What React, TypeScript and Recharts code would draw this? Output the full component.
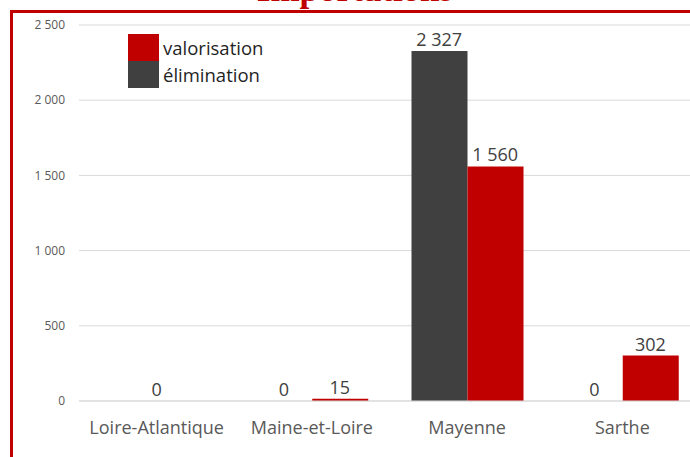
import React from 'react';
import { BarChart, Bar, XAxis, YAxis, CartesianGrid, ReferenceDot } from 'recharts';

const categories = ['Loire-Atlantique', 'Maine-et-Loire', 'Mayenne', 'Sarthe'];
const valorisation = [0, 15, 1560, 302];
const elimination = [0, 0, 2327, 0];
const yTicks = [0, 500, 1000, 1500, 2000, 2500];
const seriesNames = ['valorisation', 'élimination'];
const seriesColors = ['#C00000', '#404040'];
const title = 'Importations';

const data = categories.map((c, i) => ({
  name: c,
  valorisation: valorisation[i],
  elimination: elimination[i],
}));

const fmt = (v: number) => String(v).replace(/\B(?=(\d{3})+(?!\d))/g, ' ');

const FONT = '"Open Sans", sans-serif';
const BAR = 56;

// label entries: [category index, series key, value]
type Lbl = { cat: string; value: number; side: number };
const labels: Lbl[] = [];
categories.forEach((c, i) => {
  if (i === 0) {
    // single centred label for a category whose both series are empty
    labels.push({ cat: c, value: valorisation[i], side: 0 });
  } else {
    labels.push({ cat: c, value: elimination[i], side: -1 });
    labels.push({ cat: c, value: valorisation[i], side: 1 });
  }
});

export default function App() {
  return (
    <div style={{ position: 'fixed', left: 0, top: 0, width: 690, height: 457, overflow: 'hidden', background: '#fff' }}>
      <BarChart
        width={720}
        height={457}
        data={data}
        margin={{ top: 25, right: 20, left: 0, bottom: 26 }}
        barGap={0}
        barSize={BAR}
        style={{ position: 'absolute', left: 0, top: 0 }}
      >
        <CartesianGrid vertical={false} stroke="#d9d9d9" />
        <YAxis
          width={79}
          domain={[0, 2500]}
          ticks={yTicks}
          tickLine={false}
          axisLine={false}
          tickSize={6}
          tickMargin={8}
          tickFormatter={fmt}
          tick={{ fontSize: 12, fill: '#595959', fontFamily: FONT }}
        />
        <XAxis
          dataKey="name"
          height={30}
          tickLine={false}
          axisLine={{ stroke: '#d9d9d9' }}
          tickMargin={14}
          tick={{ fontSize: 18, fill: '#595959', fontFamily: FONT }}
        />
        <Bar dataKey="elimination" fill={seriesColors[1]} isAnimationActive={false} />
        <Bar dataKey="valorisation" fill={seriesColors[0]} isAnimationActive={false} />
        {labels.map((l, k) => (
          <ReferenceDot
            key={k}
            x={l.cat}
            y={l.value}
            r={0}
            ifOverflow="visible"
            shape={(p: any) => (
              <text
                x={p.cx + (l.side * BAR) / 2}
                y={p.cy - 5}
                textAnchor="middle"
                fontSize={18}
                fill="#404040"
                fontFamily={FONT}
              >
                {fmt(l.value)}
              </text>
            )}
          />
        ))}
      </BarChart>
      <div
        style={{
          position: 'absolute', left: 10, top: 10, width: 800, height: 600,
          border: '3px solid #C00000', pointerEvents: 'none',
        }}
      />
      <div
        style={{
          position: 'absolute', left: 0, width: 710, top: -28, textAlign: 'center',
          fontFamily: '"Liberation Serif", serif', fontWeight: 'bold', fontSize: 35,
          lineHeight: 1, color: '#C00000', whiteSpace: 'nowrap',
        }}
      >
        {title}
      </div>
      <div style={{ position: 'absolute', left: 128, top: 34 }}>
        {seriesNames.map((n, i) => (
          <div key={n} style={{ display: 'flex', alignItems: 'center', height: 27 }}>
            <div style={{ width: 31, height: 27, background: seriesColors[i] }} />
            <span style={{ marginLeft: 4, fontFamily: FONT, fontSize: 18.5, color: '#1f1f1f' }}>{n}</span>
          </div>
        ))}
      </div>
    </div>
  );
}
